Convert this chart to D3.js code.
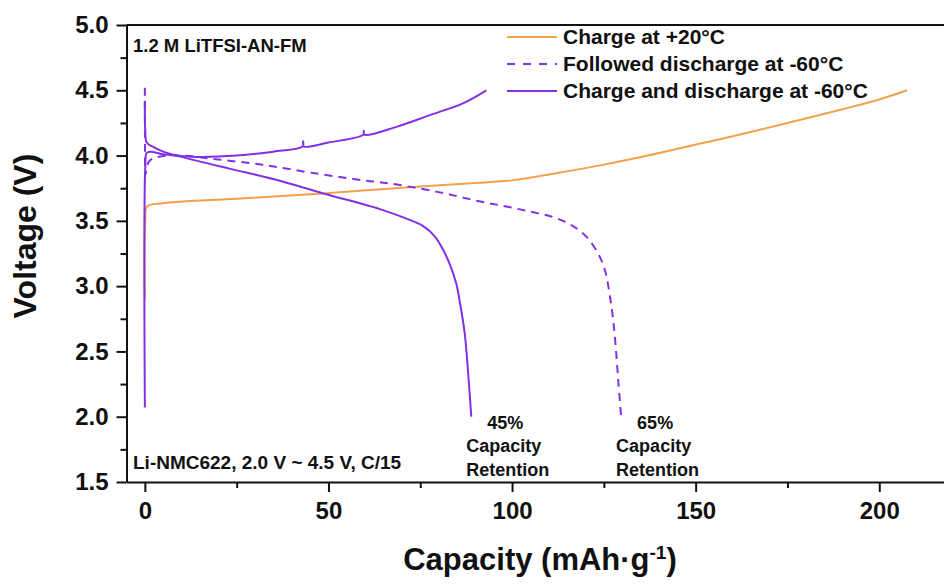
<!DOCTYPE html>
<html>
<head>
<meta charset="utf-8">
<script src="https://cdn.jsdelivr.net/npm/d3@7"></script>
<style>
  body { margin: 0; background: #fff; }
  svg text { font-family: "Liberation Sans", Arial, sans-serif; font-weight: bold; fill: #111; }
</style>
</head>
<body>
<svg id="drawing_region"></svg>
<script>
// charge at +20 C
const chargeRT_cap = [0, 0.1, 0.6, 5, 25, 48.6, 73, 90, 100, 112, 124, 137, 151, 165, 178, 190, 200, 207.6];
const chargeRT_v   = [2.9, 3.5, 3.61, 3.635, 3.67, 3.71, 3.76, 3.79, 3.81, 3.865, 3.925, 4.0, 4.09, 4.18, 4.27, 4.355, 4.43, 4.50];

// followed discharge at -60 C (dashed)
const dischFollow_cap = [0, 0.05, 0.1, 1, 2.4, 6, 10.5, 20, 32, 45, 59.5, 65.8, 80, 91, 98.4, 105, 111, 116, 120.2, 123.8, 125.5, 126.5, 127.5, 128.3, 129, 129.7];
const dischFollow_v   = [4.52, 4.0, 3.85, 3.95, 3.98, 4.0, 4.0, 3.97, 3.93, 3.87, 3.81, 3.79, 3.72, 3.65, 3.61, 3.57, 3.53, 3.47, 3.38, 3.23, 3.1, 2.95, 2.75, 2.51, 2.25, 2.0];

// charge at -60 C (solid)
const chargeLT_cap = [0, 0.1, 0.5, 1.5, 5, 14, 25, 35, 43, 43.1, 43.3, 50, 59.5, 59.6, 59.8, 68.5, 77.6, 86.6, 93];
const chargeLT_v   = [2.07, 3.9, 4.02, 4.03, 4.01, 3.99, 4.0, 4.03, 4.07, 4.11, 4.07, 4.1, 4.16, 4.19, 4.16, 4.22, 4.31, 4.40, 4.50];

// discharge at -60 C (solid)
const dischLT_cap = [0, 0.1, 0.5, 2, 5, 10, 23, 35, 48.6, 64, 70, 75.8, 79, 81.2, 83, 84.8, 86, 87.1, 88, 88.9];
const dischLT_v   = [4.42, 4.2, 4.1, 4.07, 4.03, 3.99, 3.9, 3.82, 3.71, 3.59, 3.53, 3.46, 3.38, 3.28, 3.17, 3.02, 2.84, 2.64, 2.35, 2.0];

const xMajor = [0, 50, 100, 150, 200];
const xMinor = [25, 75, 125, 175];
const yMajor = [1.5, 2.0, 2.5, 3.0, 3.5, 4.0, 4.5, 5.0];
const yMinor = [1.75, 2.25, 2.75, 3.25, 3.75, 4.25, 4.75];

const legendLabels = ['Charge at +20°C', 'Followed discharge at -60°C', 'Charge and discharge at -60°C'];

const orange = '#f5a04b';
const purple = '#8230e6';

function zip(xs, ys) { return xs.map((x, i) => ({ x: x, y: ys[i] })); }

const width = 944, height = 584;
const svg = d3.select('#drawing_region').attr('width', width).attr('height', height);

const xscale = d3.scaleLinear().domain([-5, 220]).range([126.5, 952.7]);
const yscale = d3.scaleLinear().domain([1.5, 5.0]).range([482, 25]);

const line = d3.line()
    .x(d => xscale(d.x))
    .y(d => yscale(d.y))
    .curve(d3.curveCatmullRom.alpha(0.5));

// curves
svg.append('path').datum(zip(chargeRT_cap, chargeRT_v))
    .attr('d', line).attr('fill', 'none').attr('stroke', orange).attr('stroke-width', 2);
svg.append('path').datum(zip(dischFollow_cap, dischFollow_v))
    .attr('d', line).attr('fill', 'none').attr('stroke', purple).attr('stroke-width', 2)
    .attr('stroke-dasharray', '8,6');
svg.append('path').datum(zip(chargeLT_cap, chargeLT_v))
    .attr('d', line).attr('fill', 'none').attr('stroke', purple).attr('stroke-width', 2);
svg.append('path').datum(zip(dischLT_cap, dischLT_v))
    .attr('d', line).attr('fill', 'none').attr('stroke', purple).attr('stroke-width', 2);

// axes
function styleAxis(g) {
    g.selectAll('path.domain').attr('stroke', '#111').attr('stroke-width', 2);
    g.selectAll('line').attr('stroke', '#111').attr('stroke-width', 2);
    g.selectAll('text').attr('font-size', '24px').attr('fill', '#111');
}

const xAxis = svg.append('g').attr('transform', 'translate(0,482)')
    .call(d3.axisBottom(xscale).tickValues(xMajor).tickSize(10).tickSizeOuter(0).tickPadding(10).tickFormat(d3.format('d')));
styleAxis(xAxis);

const xAxisMinor = svg.append('g').attr('transform', 'translate(0,482)')
    .call(d3.axisBottom(xscale).tickValues(xMinor).tickSize(6).tickFormat(''));
styleAxis(xAxisMinor);
xAxisMinor.select('path.domain').remove();

const yAxis = svg.append('g').attr('transform', 'translate(126.5,0)')
    .call(d3.axisLeft(yscale).tickValues(yMajor).tickSize(10).tickSizeOuter(0).tickPadding(8).tickFormat(d3.format('.1f')));
styleAxis(yAxis);

const yAxisMinor = svg.append('g').attr('transform', 'translate(126.5,0)')
    .call(d3.axisLeft(yscale).tickValues(yMinor).tickSize(6).tickFormat(''));
styleAxis(yAxisMinor);
yAxisMinor.select('path.domain').remove();

// top and right frame
svg.append('line').attr('x1', 126.5).attr('x2', 952.7).attr('y1', 25).attr('y2', 25)
    .attr('stroke', '#111').attr('stroke-width', 2);
svg.append('line').attr('x1', 952.7).attr('x2', 952.7).attr('y1', 25).attr('y2', 482)
    .attr('stroke', '#111').attr('stroke-width', 2);

// axis titles
svg.append('text')
    .attr('x', 540).attr('y', 570)
    .attr('text-anchor', 'middle')
    .attr('font-size', '31px')
    .html('Capacity (mAh·g<tspan dy="-11" font-size="19px">-1</tspan><tspan dy="11">)</tspan>');

svg.append('text')
    .attr('transform', 'rotate(-90)')
    .attr('x', -236).attr('y', 36)
    .attr('text-anchor', 'middle')
    .attr('font-size', '32px')
    .text('Voltage (V)');

// notes
svg.append('text').attr('x', 133).attr('y', 52).attr('font-size', '18.5px').text('1.2 M LiTFSI-AN-FM');
svg.append('text').attr('x', 133).attr('y', 469).attr('font-size', '19px').text('Li-NMC622, 2.0 V ~ 4.5 V, C/15');

// capacity retention labels
const notes = [
    { pct: '45%', cap: 88.9 },
    { pct: '65%', cap: 129.7 }
];
notes.forEach(n => {
    const x0 = xscale(n.cap);
    svg.append('text').attr('x', x0 + 16).attr('y', 429).attr('font-size', '18px').text(n.pct);
    svg.append('text').attr('x', x0 - 5).attr('y', 452).attr('font-size', '18px').text('Capacity');
    svg.append('text').attr('x', x0 - 5).attr('y', 476).attr('font-size', '18px').text('Retention');
});

// legend
const legend = svg.append('g').attr('transform', 'translate(507,37)');
legendLabels.forEach((lab, i) => {
    const g = legend.append('g').attr('transform', `translate(0, ${i * 27})`);
    g.append('line').attr('x1', 0).attr('x2', 50).attr('y1', 0).attr('y2', 0)
        .attr('stroke', i === 0 ? orange : purple).attr('stroke-width', 2)
        .attr('stroke-dasharray', i === 1 ? '8,8' : null);
    g.append('text').attr('x', 56).attr('y', 7).attr('font-size', '21px').text(lab);
});
</script>
</body>
</html>
